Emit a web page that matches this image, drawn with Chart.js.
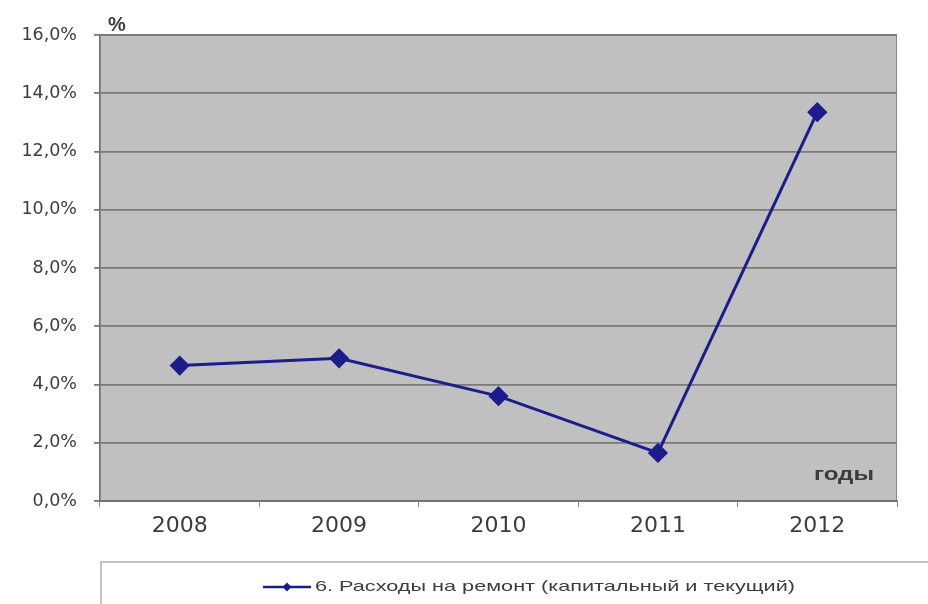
<!DOCTYPE html>
<html>
<head>
<meta charset="utf-8">
<script src="https://cdn.jsdelivr.net/npm/chart.js@4"></script>
<style>
  body { margin: 0; background: #fff; }
  #chart { display: block; }
</style>
</head>
<body>
<canvas id="chart" width="928" height="604"></canvas>
<script>
// Repair spending share by year
const years = ["2008", "2009", "2010", "2011", "2012"];
const repairShare = [4.65, 4.9, 3.6, 1.65, 13.35];
const seriesLabel = "6. Расходы на ремонт (капитальный и текущий)";
const yTicks = [0, 2, 4, 6, 8, 10, 12, 14, 16];

const lineColor = "#1c1c8c";
const textColor = "#3c3c3c";

// draw text squeezed/stretched to a given width
function fillWide(ctx, text, x, y, width) {
  const w = ctx.measureText(text).width;
  ctx.save();
  ctx.translate(x, y);
  ctx.scale(width / w, 1);
  ctx.fillText(text, 0, 0);
  ctx.restore();
}

// Grey plot background, axis captions and the boxed legend
const chartDecor = {
  id: "chartDecor",
  beforeDraw(chart) {
    const { ctx, chartArea: a } = chart;
    ctx.save();
    ctx.fillStyle = "#c0c0c0";
    ctx.fillRect(a.left, a.top, a.right - a.left, a.bottom - a.top);
    ctx.strokeStyle = "#8a8a8a";
    ctx.lineWidth = 1;
    ctx.strokeRect(a.left, a.top + 0.5, a.right - a.left - 0.5, a.bottom - a.top);
    ctx.restore();
  },
  afterDraw(chart) {
    const { ctx, chartArea: a } = chart;
    ctx.save();
    ctx.fillStyle = textColor;
    ctx.textBaseline = "alphabetic";
    ctx.textAlign = "left";
    ctx.font = "bold 20px 'Liberation Sans', Arial, sans-serif";
    ctx.fillText("%", a.left + 8, a.top - 4);
    ctx.font = "bold 18px 'Liberation Sans', Arial, sans-serif";
    fillWide(ctx, "годы", a.right - 83, a.bottom - 21, 60);

    // legend box
    ctx.strokeStyle = "#c4c4c4";
    ctx.lineWidth = 2;
    ctx.strokeRect(a.left + 1, 562, 940, 60);

    const ds = chart.data.datasets[0];
    const ly = 587;
    ctx.strokeStyle = ds.borderColor;
    ctx.lineWidth = 2.5;
    ctx.beginPath();
    ctx.moveTo(263, ly);
    ctx.lineTo(311, ly);
    ctx.stroke();
    ctx.fillStyle = ds.borderColor;
    ctx.beginPath();
    ctx.moveTo(287, ly - 4.5);
    ctx.lineTo(291.5, ly);
    ctx.lineTo(287, ly + 4.5);
    ctx.lineTo(282.5, ly);
    ctx.closePath();
    ctx.fill();

    ctx.fillStyle = textColor;
    ctx.font = "15px 'Liberation Sans', Arial, sans-serif";
    ctx.textBaseline = "middle";
    fillWide(ctx, ds.label, 315, ly, 480);
    ctx.restore();
  }
};

new Chart(document.getElementById("chart"), {
  type: "line",
  data: {
    labels: years,
    datasets: [{
      label: seriesLabel,
      data: repairShare,
      borderColor: lineColor,
      backgroundColor: lineColor,
      borderWidth: 3,
      tension: 0,
      pointStyle: "rectRot",
      pointRadius: 8,
      pointBackgroundColor: lineColor,
      pointBorderColor: lineColor
    }]
  },
  options: {
    responsive: false,
    animation: false,
    layout: { padding: { top: 35, right: 31, left: 0, bottom: 0 } },
    plugins: {
      legend: { display: false },
      tooltip: { enabled: false }
    },
    scales: {
      x: {
        offset: true,
        afterFit(scale) { scale.height = 103; },
        border: { color: "#6e6e6e", width: 1.5 },
        grid: {
          offset: true,
          drawOnChartArea: false,
          tickLength: 6,
          color: "#8a8a8a"
        },
        ticks: {
          color: textColor,
          padding: 6,
          font: { family: "'DejaVu Sans', sans-serif", size: 22 }
        }
      },
      y: {
        min: 0,
        max: 16,
        afterFit(scale) { scale.width = 100; },
        afterBuildTicks(scale) { scale.ticks = yTicks.map(v => ({ value: v })); },
        border: { color: "#6e6e6e", width: 1.5 },
        grid: {
          color: "#7a7a7a",
          lineWidth: 1.8,
          tickLength: 6
        },
        ticks: {
          color: textColor,
          padding: 17,
          font: { family: "'DejaVu Sans', sans-serif", size: 17.5 },
          callback: v => v.toFixed(1).replace(".", ",") + "%"
        }
      }
    }
  },
  plugins: [chartDecor]
});
</script>
</body>
</html>
